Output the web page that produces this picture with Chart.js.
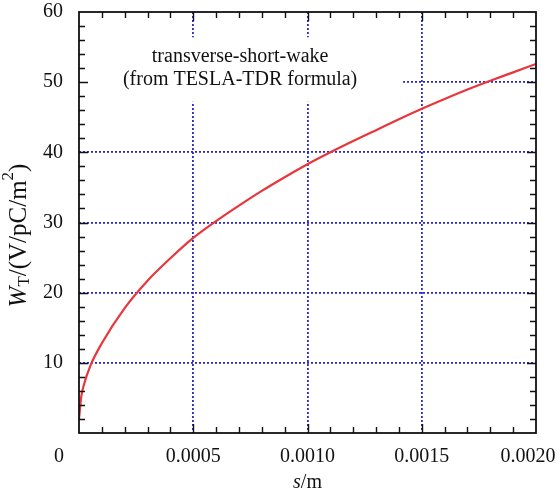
<!DOCTYPE html>
<html>
<head>
<meta charset="utf-8">
<script src="https://cdn.jsdelivr.net/npm/chart.js@4/dist/chart.umd.min.js"></script>
<style>
  html, body { margin: 0; padding: 0; background: #fff; }
  #wrap { width: 560px; height: 497px; }
</style>
</head>
<body>
<div id="wrap"><canvas id="wakeChart" width="560" height="497"></canvas></div>
<script>
// ---- DATA ----
const sValues = [0, 0.00001, 0.00002, 0.00005, 0.0001, 0.0002, 0.0003, 0.0004, 0.0005,
  0.0006, 0.0007, 0.0008, 0.0009, 0.0010, 0.0011, 0.0012, 0.0013, 0.0014, 0.0015,
  0.0016, 0.0017, 0.0018, 0.0019, 0.0020];
const wValues = [2.0, 5.2, 6.7, 9.6, 12.8, 17.8, 21.7, 24.9, 27.8,
  30.2, 32.4, 34.5, 36.45, 38.3, 40.0, 41.6, 43.15, 44.7, 46.2,
  47.6, 48.95, 50.2, 51.4, 52.6];
const xTicks = [0, 0.0005, 0.0010, 0.0015, 0.0020];
const yTicks = [0, 10, 20, 30, 40, 50, 60];
const noteLines = ['transverse-short-wake', '(from TESLA-TDR formula)'];

const SERIF = '"Liberation Serif", "DejaVu Serif", serif';
const GRID_BLUE = '#2a2ad0';
const INK = '#111';

// grid only at inner major ticks, frame is drawn by the plugin
const gridColor = (ctx) => {
  const sc = ctx.scale;
  if (!ctx.tick) return 'transparent';
  const v = ctx.tick.value;
  if (Math.abs(v - sc.min) < 1e-9 || Math.abs(v - sc.max) < 1e-9) return 'transparent';
  return GRID_BLUE;
};

// ---- FRAME, MINOR TICKS, LABELS ----
const framePlugin = {
  id: 'frame',
  beforeDatasetsDraw(chart) {
    const { ctx } = chart;
    const x = chart.scales.x, y = chart.scales.y;
    // white box behind the note
    const bx1 = x.getPixelForValue(0), bx2 = x.getPixelForValue(0.001414);
    const by1 = y.getPixelForValue(56.4), by2 = y.getPixelForValue(47.2);
    ctx.save();
    ctx.fillStyle = '#fff';
    ctx.fillRect(bx1 + 1, by1, bx2 - bx1, by2 - by1);
    ctx.fillStyle = INK;
    ctx.font = '20px ' + SERIF;
    ctx.textAlign = 'center';
    ctx.textBaseline = 'middle';
    const cx = x.getPixelForValue(0.000705);
    ctx.fillText(noteLines[0], cx, y.getPixelForValue(53.6));
    ctx.fillText(noteLines[1], cx, y.getPixelForValue(50.3));
    ctx.restore();
  },
  afterDatasetsDraw(chart) {
    const { ctx, chartArea: a } = chart;
    const x = chart.scales.x, y = chart.scales.y;
    ctx.save();
    ctx.strokeStyle = INK;
    ctx.lineWidth = 1.8;
    ctx.strokeRect(a.left, a.top, a.right - a.left, a.bottom - a.top);

    ctx.lineWidth = 1.4;
    ctx.beginPath();
    for (let i = 1; i < 20; i++) {
      const px = Math.round(x.getPixelForValue(i * 0.0001)) + 0.5;
      const len = i % 5 === 0 ? 9 : 6;
      ctx.moveTo(px, a.bottom); ctx.lineTo(px, a.bottom - len);
      ctx.moveTo(px, a.top); ctx.lineTo(px, a.top + len);
    }
    for (let i = 1; i < 30; i++) {
      const py = Math.round(y.getPixelForValue(i * 2)) + 0.5;
      const len = i % 5 === 0 ? 9 : 6;
      ctx.moveTo(a.left, py); ctx.lineTo(a.left + len, py);
      ctx.moveTo(a.right, py); ctx.lineTo(a.right - len, py);
    }
    ctx.stroke();

    // end labels of the s axis, set off from their ticks as in the original
    ctx.fillStyle = INK;
    ctx.font = '20px ' + SERIF;
    ctx.textAlign = 'center';
    ctx.textBaseline = 'middle';
    ctx.fillText('0', x.getPixelForValue(xTicks[0]) - 20, a.bottom + 24);
    ctx.fillText(xTicks[4].toFixed(4), x.getPixelForValue(xTicks[4]) - 8, a.bottom + 24);

    // x title: s/m
    const parts = [['italic 20px ', 's'], ['20px ', '/m']];
    let w = 0;
    parts.forEach(p => { ctx.font = p[0] + SERIF; w += ctx.measureText(p[1]).width; });
    let tx = (a.left + a.right) / 2 - w / 2;
    ctx.textAlign = 'left';
    parts.forEach(p => {
      ctx.font = p[0] + SERIF;
      ctx.fillText(p[1], tx, a.bottom + 50);
      tx += ctx.measureText(p[1]).width;
    });

    // y title: W_T/(V/pC/m^2)
    const yParts = [
      ['italic 25px ', 'W', 0],
      ['17px ', 'T', 6],
      ['25px ', '/(V/pC/m', 0],
      ['17px ', '2', -10],
      ['25px ', ')', 0],
    ];
    let yw = 0;
    yParts.forEach(p => { ctx.font = p[0] + SERIF; yw += ctx.measureText(p[1]).width; });
    ctx.translate(19, (a.top + a.bottom) / 2 + 13);
    ctx.rotate(-Math.PI / 2);
    let ox = -yw / 2;
    yParts.forEach(p => {
      ctx.font = p[0] + SERIF;
      ctx.fillText(p[1], ox, p[2]);
      ox += ctx.measureText(p[1]).width;
    });
    ctx.restore();
  },
};

// ---- CHART ----
new Chart(document.getElementById('wakeChart'), {
  type: 'line',
  data: {
    datasets: [{
      data: sValues.map((s, i) => ({ x: s, y: wValues[i] })),
      borderColor: '#e8363c',
      borderWidth: 2.2,
      pointRadius: 0,
      cubicInterpolationMode: 'monotone',
      fill: false,
    }],
  },
  options: {
    responsive: false,
    animation: false,
    layout: { padding: { top: 12, right: 24, left: 0, bottom: 0 } },
    plugins: { legend: { display: false }, tooltip: { enabled: false } },
    scales: {
      x: {
        type: 'linear',
        min: xTicks[0],
        max: xTicks[xTicks.length - 1],
        afterBuildTicks: (sc) => { sc.ticks = xTicks.map(v => ({ value: v })); },
        afterFit: (sc) => { sc.height = 64; sc.paddingLeft = 0; sc.paddingRight = 0; },
        ticks: {
          color: INK,
          font: { family: SERIF, size: 20 },
          padding: 12,
          maxRotation: 0,
          // the two end labels are placed by the frame plugin
          callback: v => (v === xTicks[0] || v === xTicks[4] ? '' : v.toFixed(4)),
        },
        grid: { color: gridColor, lineWidth: 1.8, drawTicks: false },
        border: { display: false, dash: [2, 2] },
      },
      y: {
        min: yTicks[0],
        max: yTicks[yTicks.length - 1],
        afterBuildTicks: (sc) => { sc.ticks = yTicks.map(v => ({ value: v })); },
        afterFit: (sc) => { sc.width = 79; sc.paddingTop = 0; sc.paddingBottom = 0; },
        ticks: {
          color: INK,
          font: { family: SERIF, size: 20 },
          padding: 16,
          callback: v => (v === 0 ? '' : v),
        },
        grid: { color: gridColor, lineWidth: 1.8, drawTicks: false },
        border: { display: false, dash: [2, 2] },
      },
    },
  },
  plugins: [framePlugin],
});
</script>
</body>
</html>
